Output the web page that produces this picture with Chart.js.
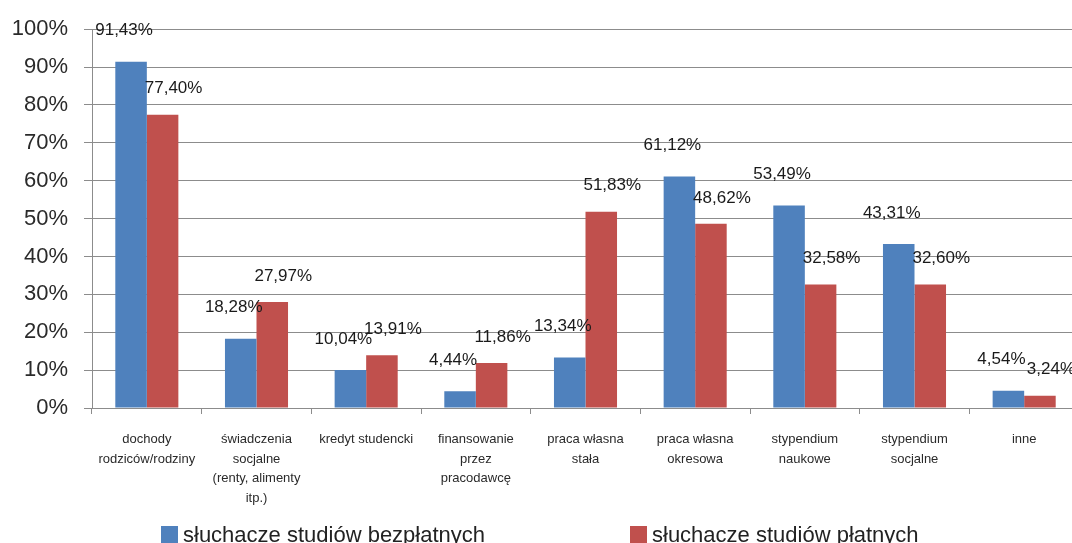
<!DOCTYPE html>
<html>
<head>
<meta charset="utf-8">
<script src="https://cdn.jsdelivr.net/npm/chart.js@4/dist/chart.umd.min.js"></script>
<style>
  html, body { margin: 0; padding: 0; background: #fff; overflow: hidden; }
  #wrap { position: relative; width: 1072px; height: 543px; overflow: hidden; }
  .leg { position: absolute; top: 522px; font: 22px "Liberation Sans", sans-serif; color: #222; white-space: nowrap; }
  .leg i { display: inline-block; width: 17px; height: 17px; margin-right: 5px; vertical-align: -1px; }
</style>
</head>
<body>
<div id="wrap">
  <canvas id="chart" width="1090" height="543" style="width:1090px;height:543px"></canvas>
  <div class="leg" style="left:161px"><i style="background:#4F81BD"></i>słuchacze studiów bezpłatnych</div>
  <div class="leg" style="left:630px"><i style="background:#C0504D"></i>słuchacze studiów płatnych</div>
</div>
<script>
// categories (multi-line like in the original)
const categories = [
  ['dochody', 'rodziców/rodziny'],
  ['świadczenia', 'socjalne', '(renty, alimenty', 'itp.)'],
  ['kredyt studencki'],
  ['finansowanie', 'przez', 'pracodawcę'],
  ['praca własna', 'stała'],
  ['praca własna', 'okresowa'],
  ['stypendium', 'naukowe'],
  ['stypendium', 'socjalne'],
  ['inne']
]
const seriesNames = ['słuchacze studiów bezpłatnych', 'słuchacze studiów płatnych']
const bezplatne = [91.43, 18.28, 10.04, 4.44, 13.34, 61.12, 53.49, 43.31, 4.54]
const platne = [77.40, 27.97, 13.91, 11.86, 51.83, 48.62, 32.58, 32.60, 3.24]
const yTicks = [0, 10, 20, 30, 40, 50, 60, 70, 80, 90, 100]

const fmt = (v) => v.toFixed(2).replace('.', ',') + '%'

// value labels above bars, shifted per series like in excel
const labelShift = [{ dx: -7, dy: -31 }, { dx: 11, dy: -26 }]

const valueLabels = {
    id: 'valueLabels',
    afterDatasetsDraw(chart) {
        const ctx = chart.ctx
        ctx.save()
        ctx.font = '17px "Liberation Sans", sans-serif'
        ctx.fillStyle = '#1a1a1a'
        ctx.textAlign = 'center'
        ctx.textBaseline = 'middle'
        chart.data.datasets.forEach((ds, i) => {
            const sh = labelShift[i]
            chart.getDatasetMeta(i).data.forEach((bar, j) => {
                ctx.fillText(fmt(ds.data[j]), bar.x + sh.dx, bar.y + sh.dy)
            })
        })
        ctx.restore()
    }
}

const ctx = document.getElementById('chart').getContext('2d')
const chart = new Chart(ctx, {
    type: 'bar',
    data: {
        labels: categories,
        datasets: [{
            label: seriesNames[0],
            backgroundColor: '#4F81BD',
            data: bezplatne
        }, {
            label: seriesNames[1],
            backgroundColor: '#C0504D',
            data: platne
        }]
    },
    options: {
        responsive: false,
        animation: false,
        categoryPercentage: 0.575,
        barPercentage: 1,
        layout: { padding: { top: 24, right: 11, bottom: 0, left: 0 } },
        plugins: {
            legend: { display: false },
            tooltip: { enabled: false }
        },
        scales: {
            x: {
                afterFit: (s) => { s.height = 135 },
                grid: { offset: true, drawOnChartArea: false, drawTicks: true, tickLength: 6, color: '#8c8c8c' },
                border: { color: '#8c8c8c' },
                ticks: {
                    autoSkip: false,
                    maxRotation: 0,
                    padding: 16,
                    color: '#2a2a2a',
                    font: { family: '"Liberation Sans", sans-serif', size: 13, lineHeight: 1.5 }
                }
            },
            y: {
                min: 0,
                max: 100,
                afterFit: (s) => { s.width = 92 },
                afterBuildTicks: (s) => { s.ticks = yTicks.map(v => ({ value: v })) },
                grid: { color: '#8c8c8c', tickLength: 8 },
                border: { color: '#8c8c8c' },
                ticks: {
                    padding: 16,
                    color: '#2a2a2a',
                    font: { family: '"Liberation Sans", sans-serif', size: 22 },
                    callback: (v) => v + '%'
                }
            }
        }
    },
    plugins: [valueLabels]
})
</script>
</body>
</html>
